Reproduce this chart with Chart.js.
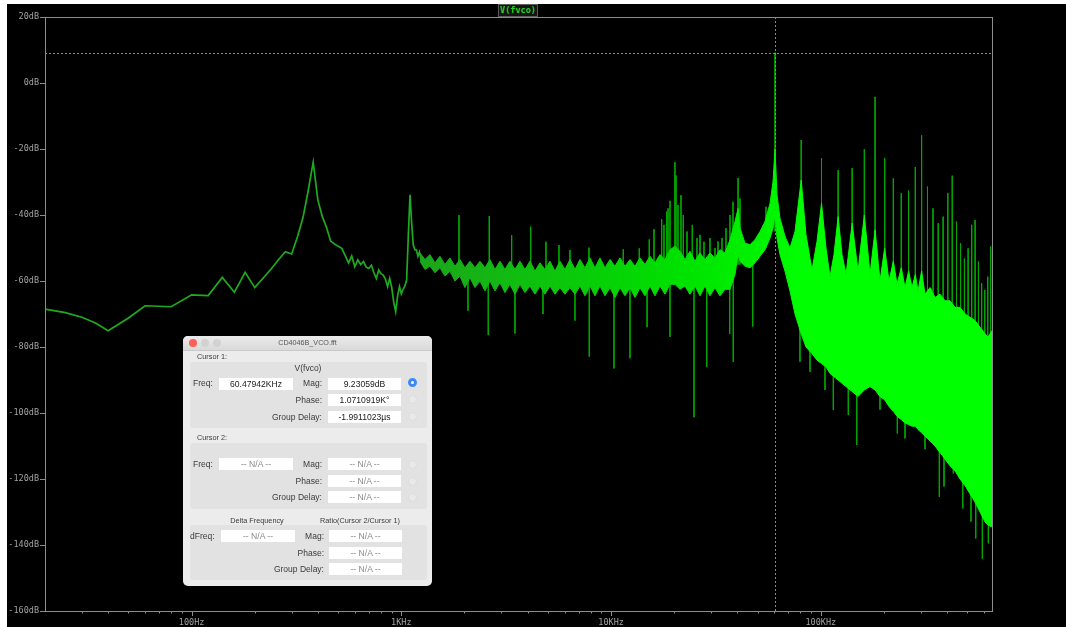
<!DOCTYPE html>
<html>
<head>
<meta charset="utf-8">
<script src="https://cdn.jsdelivr.net/npm/chart.js@4.4.1/dist/chart.umd.min.js"></script>
<style>
  html, body { margin: 0; padding: 0; background: #fff; width: 1066px; height: 627px; overflow: hidden; }
  #plot { position: absolute; left: 7px; top: 4px; width: 1059px; height: 623px; background: #000; }
  #plot canvas { display: block; }
  #traceName {
    position: absolute; left: 498px; top: 4px; width: 40px; height: 13px; box-sizing: border-box;
    border: 1px solid #5c5c5c; background: #141414; color: #22d422;
    font: bold 8.5px "DejaVu Sans Mono", monospace; line-height: 11px; text-align: center;
  }
  #dlg {
    position: absolute; left: 183px; top: 336px; width: 249px; height: 250px;
    background: #ececec; border-radius: 5px; box-shadow: 0 0 3px rgba(0,0,0,0.5);
    font-family: "Liberation Sans", Arial, sans-serif; color: #3a3a3a; overflow: hidden;
  }
  #dlg .bar { position: absolute; left: 0; top: 0; width: 249px; height: 14px;
    background: linear-gradient(#ebebeb, #d9d9d9); border-bottom: 1px solid #c9c9c9; }
  #dlg .light { position: absolute; top: 3px; width: 8px; height: 8px; border-radius: 50%; background: #d2d2d2; }
  #dlg .t { position: absolute; white-space: nowrap; line-height: 10px; }
  #dlg .panel { position: absolute; left: 7px; width: 237px; background: #e2e2e2; border-radius: 3px; }
  #dlg .box { position: absolute; height: 12px; background: #fff; text-align: center;
    font-size: 8.6px; line-height: 12px; color: #1a1a1a; white-space: nowrap; }
  #dlg .na { color: #8a8a8a; }
  #dlg .radio { position: absolute; width: 9px; height: 9px; border-radius: 50%; background: #e9e9e9; border: 1px solid #dcdcdc; box-sizing: border-box; }
  #dlg .radio.on { background: #fff; border: 3px solid #3d8af7; }
</style>
</head>
<body>
<div id="plot"><canvas id="c" width="1059" height="623"></canvas></div>
<div id="traceName">V(fvco)</div>

<div id="dlg">
  <div class="bar">
    <span class="light" style="left:6px;background:#fc5f57"></span>
    <span class="light" style="left:18px"></span>
    <span class="light" style="left:30px"></span>
    <div class="t" style="left:0;width:249px;top:2px;text-align:center;font-size:7.2px;color:#555">CD4046B_VCO.fft</div>
  </div>

  <div class="t" style="left:14px;top:16px;font-size:7.3px">Cursor 1:</div>
  <div class="panel" style="top:26px;height:66px"></div>
  <div class="t" style="left:0;width:250px;top:27px;text-align:center;font-size:8.5px">V(fvco)</div>
  <div class="t" style="left:10px;top:42px;font-size:8.5px">Freq:</div>
  <div class="box" style="left:36px;top:42px;width:74px">60.47942KHz</div>
  <div class="t" style="left:100px;width:39px;top:42px;text-align:right;font-size:8.5px">Mag:</div>
  <div class="box" style="left:145px;top:42px;width:73px">9.23059dB</div>
  <div class="radio on" style="left:225px;top:42px"></div>
  <div class="t" style="left:80px;width:59px;top:59px;text-align:right;font-size:8.5px">Phase:</div>
  <div class="box" style="left:145px;top:58px;width:73px">1.0710919K°</div>
  <div class="radio" style="left:225px;top:59px"></div>
  <div class="t" style="left:60px;width:79px;top:76px;text-align:right;font-size:8.5px">Group Delay:</div>
  <div class="box" style="left:145px;top:75px;width:73px">-1.9911023µs</div>
  <div class="radio" style="left:225px;top:76px"></div>

  <div class="t" style="left:14px;top:97px;font-size:7.3px">Cursor 2:</div>
  <div class="panel" style="top:107px;height:66px"></div>
  <div class="t" style="left:10px;top:123px;font-size:8.5px">Freq:</div>
  <div class="box na" style="left:36px;top:122px;width:74px">-- N/A --</div>
  <div class="t" style="left:100px;width:39px;top:123px;text-align:right;font-size:8.5px">Mag:</div>
  <div class="box na" style="left:145px;top:122px;width:73px">-- N/A --</div>
  <div class="radio" style="left:225px;top:124px"></div>
  <div class="t" style="left:80px;width:59px;top:140px;text-align:right;font-size:8.5px">Phase:</div>
  <div class="box na" style="left:145px;top:139px;width:73px">-- N/A --</div>
  <div class="radio" style="left:225px;top:141px"></div>
  <div class="t" style="left:60px;width:79px;top:156px;text-align:right;font-size:8.5px">Group Delay:</div>
  <div class="box na" style="left:145px;top:155px;width:73px">-- N/A --</div>
  <div class="radio" style="left:225px;top:157px"></div>

  <div class="t" style="left:34px;width:80px;top:180px;text-align:center;font-size:7.3px">Delta Frequency</div>
  <div class="t" style="left:127px;width:100px;top:180px;text-align:center;font-size:7.3px">Ratio(Cursor 2/Cursor 1)</div>
  <div class="panel" style="top:189px;height:55px"></div>
  <div class="t" style="left:7px;top:195px;font-size:8.5px">dFreq:</div>
  <div class="box na" style="left:38px;top:194px;width:74px">-- N/A --</div>
  <div class="t" style="left:102px;width:39px;top:195px;text-align:right;font-size:8.5px">Mag:</div>
  <div class="box na" style="left:146px;top:194px;width:73px">-- N/A --</div>
  <div class="t" style="left:82px;width:59px;top:212px;text-align:right;font-size:8.5px">Phase:</div>
  <div class="box na" style="left:146px;top:211px;width:73px">-- N/A --</div>
  <div class="t" style="left:62px;width:79px;top:228px;text-align:right;font-size:8.5px">Group Delay:</div>
  <div class="box na" style="left:146px;top:227px;width:73px">-- N/A --</div>
</div>

<script>
// ---- FFT of V(fvco) ----
// Low-frequency part of the spectrum, one clean trace
const lowHz = [20, 25, 30, 35, 40, 50, 60, 80, 100, 120, 140, 160, 180, 200, 220, 240, 260, 280, 300,
  320, 340, 360, 380, 400, 420, 440, 460, 480, 500, 520, 540, 560, 580, 600, 620, 640, 660, 680, 700,
  720, 740, 760, 780, 800, 820, 840, 860, 880, 900, 920, 940, 960, 980, 1000, 1020, 1040, 1060, 1080,
  1100, 1120, 1140, 1160, 1180, 1200, 1220, 1240];
const lowDb = [-68.5, -69.6, -71.0, -72.8, -75.1, -71.2, -67.5, -67.8, -64.2, -64.4, -58.9, -63.4, -57.4,
  -62.0, -59.0, -56.3, -53.5, -51.1, -51.8, -46.5, -40.7, -32.5, -24.0, -35.5, -40.5, -43.8, -47.9,
  -48.8, -49.5, -50.1, -52.3, -54.5, -52.4, -55.7, -53.6, -55.0, -54.1, -55.8, -56.2, -55.2, -57.5,
  -59.2, -56.7, -57.8, -58.2, -59.5, -61.7, -59.2, -62.0, -66.5, -69.3, -64.5, -61.7, -63.9, -62.5,
  -61.5, -59.7, -46.0, -33.9, -42.5, -49.1, -50.5, -50.6, -52.5, -51.2, -53.0];

// Dense noise floor above ~1.2 kHz: upper and lower envelope
const bandHz = [1227, 1296, 1369, 1446, 1528, 1614, 1705, 1801, 1903, 2010, 2124, 2244, 2371, 2504,
  2646, 2795, 2953, 3119, 3295, 3481, 3677, 3885, 4104, 4336, 4580, 4839, 5111, 5400, 5705, 6027,
  6368, 6728, 7107, 7508, 7932, 8379, 8853, 9352, 9881, 10437, 11025, 11651, 12308, 13002, 13735,
  14511, 15329, 16193, 17107, 18072, 19092, 20168, 21307, 22506, 23776, 25124, 26541, 28041, 29620,
  31290, 33055, 34923, 36897, 38970, 40320, 41174, 43495, 45962, 48550, 51299, 54189, 57250, 59165,
  60479, 61826, 63883, 67490, 71300, 75336, 80640, 84978, 90782, 95919, 100800, 105880, 110640,
  115580, 120960, 126200, 131920, 141120, 150440, 161280, 171630, 181440, 191570, 201600, 211440,
  221760, 230930, 241920, 252120, 262080, 272230, 282240, 290760, 302400, 313980, 331680, 350420,
  370150, 391080, 413120, 436520, 461100, 487180, 514520, 543630, 574300, 606740, 627030, 655000];
const bandTopDb = [-51.5, -53.5, -52.0, -54.5, -52.5, -55.0, -53.0, -55.5, -53.5, -56.0, -54.0, -56.0,
  -54.0, -56.0, -53.5, -56.5, -54.0, -56.5, -54.0, -56.5, -54.0, -56.5, -54.0, -57.0, -54.5, -56.5,
  -54.0, -57.0, -54.0, -56.5, -53.5, -56.5, -53.5, -56.0, -53.0, -56.0, -53.0, -56.0, -53.5, -55.5,
  -53.0, -55.5, -53.5, -55.5, -53.0, -55.0, -52.5, -54.5, -52.0, -53.5, -50.5, -49.5, -51.0, -53.5,
  -51.0, -54.0, -51.5, -53.5, -51.5, -53.0, -50.5, -51.5, -47.5, -42.0, -38.0, -44.0, -48.5, -49.0,
  -47.5, -45.0, -42.0, -36.5, -30.0, -20.0, -34.0, -41.0, -46.5, -50.0, -45.0, -29.4, -46.0, -56.7,
  -48.0, -36.5, -50.0, -58.7, -52.0, -40.5, -52.0, -58.0, -42.5, -57.0, -40.0, -58.0, -44.5, -60.0,
  -50.0, -60.0, -54.0, -61.0, -56.0, -62.0, -57.0, -62.0, -58.0, -63.0, -57.0, -64.0, -62.0, -65.0,
  -64.0, -66.0, -66.0, -68.0, -68.0, -70.0, -71.0, -72.0, -74.0, -76.0, -77.0, -75.0];
const bandBottomDb = [-54.0, -56.5, -55.5, -57.5, -56.0, -58.5, -57.0, -60.0, -58.5, -62.0, -59.0,
  -62.0, -60.0, -63.0, -60.0, -63.0, -60.5, -63.5, -61.0, -64.0, -61.0, -63.5, -61.5, -64.0, -61.5,
  -64.0, -61.5, -64.0, -62.0, -64.0, -62.0, -64.0, -61.5, -64.5, -61.5, -64.5, -61.5, -64.5, -62.0,
  -65.0, -62.0, -64.5, -62.0, -65.0, -62.0, -64.5, -61.5, -64.5, -61.5, -64.0, -61.0, -61.0, -62.5,
  -61.5, -64.0, -61.5, -64.5, -61.5, -64.5, -62.0, -64.5, -62.5, -62.5, -58.0, -52.0, -54.0, -55.5,
  -56.0, -54.5, -52.5, -50.5, -47.0, -44.0, -40.0, -47.0, -52.0, -57.0, -63.0, -70.0, -76.0, -80.0,
  -82.0, -84.0, -85.0, -86.0, -88.0, -89.0, -90.0, -91.0, -92.0, -93.5, -95.0, -93.0, -92.0, -93.0,
  -95.0, -96.0, -98.0, -99.5, -101.0, -102.0, -103.0, -103.5, -104.0, -104.0, -105.0, -106.0, -107.0,
  -108.5, -110.0, -112.0, -114.0, -116.0, -117.5, -120.0, -122.0, -124.5, -127.0, -130.0, -133.0,
  -134.0, -134.5];

// Discrete spectral lines: each runs from its high to its low level
const spikeHz = [1883, 2078, 2597, 2626, 3357, 3482, 4137, 4734, 4894, 5643,
  6368, 6727, 7845, 7870, 9955, 10323, 11436, 12307, 13632, 14850,
  15212, 16020, 17428, 17874, 18414, 18677, 19095, 20160, 20393, 20845,
  21543, 22099, 23010, 24391, 24851, 25683, 26541, 27733, 28571, 29620,
  31290, 32338, 33795, 35313, 36783, 36897, 38135, 38246, 40320, 41174,
  47352, 54788, 60479.42, 79574, 80640, 88842, 100800, 104710, 114720, 120960,
  135240, 141120, 148340, 161280, 181440, 191570, 201600, 221760, 231670, 241920,
  252120, 262080, 282240, 302400, 313980, 322560, 342720, 362880, 367380, 383040,
  386750, 403200, 423360, 428440, 443520, 463680, 474980, 483840, 504000, 520170,
  524160, 544320, 547880, 564480, 584640, 589120, 604800, 624960, 629210, 645120];
const spikeHighDb = [-40, -56, -56, -40.3, -46.1, -56, -43.5, -56, -48.1, -49.1,
  -50.6, -56, -49.9, -56, -53.6, -56, -50.4, -56, -50.1, -56,
  -47.4, -44.3, -41.3, -43, -39, -38, -35.7, -24, -28, -37,
  -34, -40, -45, -43, -56, -47, -46, -48.1, -56, -47,
  -50, -48, -47, -44, -56, -40, -36, -56, -28.8, -35,
  -52, -37.5, 9.23059, -60, -17.3, -60, -22.8, -80, -80, -26.4,
  -85, -25.8, -85, -20.1, -4.2, -85, -22.8, -28.9, -90, -33.4,
  -90, -32.6, -25.5, -15.8, -95, -31.4, -38, -42.5, -100, -40.5,
  -100, -33.4, -28.1, -100, -42, -48.6, -100, -53.2, -50.1, -110,
  -43, -41.5, -110, -54.1, -60.7, -110, -62.7, -58.7, -110, -49.6];
const spikeLowDb = [-58, -69, -76.4, -59, -60, -75.9, -60, -70, -60, -60,
  -60, -72, -60, -82.9, -60, -86.5, -60, -83.4, -60, -74,
  -60, -60, -60, -60, -60, -60, -76.9, -60, -60, -60,
  -60, -60, -60, -60, -101.3, -60, -60, -60, -86, -60,
  -60, -60, -60, -60, -76, -60, -60, -84.5, -55, -55,
  -73.8, -50, -45, -84.5, -75, -87.5, -75, -93, -99.1, -75,
  -100.6, -75, -109.7, -75, -75, -99, -75, -75, -106.2, -75,
  -107.7, -75, -75, -75, -111, -80, -80, -80, -125.4, -80,
  -122.3, -80, -80, -118.3, -80, -80, -128.9, -80, -80, -132.9,
  -80, -80, -138, -80, -80, -144.1, -80, -80, -139.5, -80];

// Cursor 1 readout
const cursorHz = 60479.42;
const cursorDb = 9.23059;

// Axis ticks
const decadeHz = [100, 1000, 10000, 100000];
const decadeLabels = ['100Hz', '1KHz', '10KHz', '100KHz'];
const xTickHz = [];
[10, 100, 1000, 10000, 100000].forEach(d => {
  for (let m = 1; m <= 9; m++) {
    const v = m * d;
    if (v > 20 && v < 655000) xTickHz.push(v);
  }
});
const yMin = -160, yMax = 20, yStep = 20;

const pairs = (xs, ys) => xs.map((x, i) => ({ x, y: ys[i] }));
const spikePoints = [];
spikeHz.forEach((f, i) => {
  spikePoints.push({ x: f, y: spikeHighDb[i] }, { x: f, y: spikeLowDb[i] }, { x: f, y: null });
});

const AXIS = '#8c8c8c';
const LABEL = '#a2a2a2';

function bandShade(ctx) {
  const chart = ctx.chart;
  const area = chart.chartArea;
  if (!area) return '#00e000';
  const x = chart.scales.x;
  const x0 = x.getPixelForValue(bandHz[0]);
  const x1 = x.getPixelForValue(bandHz[bandHz.length - 1]);
  const at = f => Math.min(1, Math.max(0, (x.getPixelForValue(f) - x0) / (x1 - x0)));
  const g = chart.ctx.createLinearGradient(x0, 0, x1, 0);
  g.addColorStop(0, 'rgb(28,165,28)');
  g.addColorStop(at(5000), 'rgb(12,196,12)');
  g.addColorStop(at(20000), 'rgb(0,224,0)');
  g.addColorStop(at(60000), 'rgb(0,246,0)');
  g.addColorStop(at(80000), 'rgb(0,255,0)');
  g.addColorStop(1, 'rgb(0,255,0)');
  return g;
}

// Frame, tick marks and the cursor cross-hair
const framePlugin = {
  id: 'frame',
  afterDatasetsDraw(chart) {
    const { ctx, chartArea: a, scales: { x, y } } = chart;
    ctx.save();
    ctx.lineWidth = 1;

    ctx.strokeStyle = '#8a8a8a';
    ctx.setLineDash([2, 2]);
    const cx = Math.round(x.getPixelForValue(cursorHz)) + 0.5;
    const cy = Math.round(y.getPixelForValue(cursorDb)) + 0.5;
    ctx.beginPath();
    ctx.moveTo(cx, a.top); ctx.lineTo(cx, a.bottom);
    ctx.moveTo(a.left, cy); ctx.lineTo(a.right, cy);
    ctx.stroke();
    ctx.setLineDash([]);

    ctx.strokeStyle = AXIS;
    ctx.strokeRect(Math.round(a.left) + 0.5, Math.round(a.top) + 0.5,
      Math.round(a.right - a.left), Math.round(a.bottom - a.top));

    ctx.beginPath();
    x.ticks.forEach(t => {
      const px = Math.round(x.getPixelForValue(t.value)) + 0.5;
      const len = decadeHz.includes(t.value) ? 5 : 2.5;
      ctx.moveTo(px, a.bottom); ctx.lineTo(px, a.bottom + len);
    });
    y.ticks.forEach(t => {
      const py = Math.round(y.getPixelForValue(t.value)) + 0.5;
      ctx.moveTo(a.left - 5, py); ctx.lineTo(a.left, py);
    });
    ctx.stroke();
    ctx.restore();
  }
};

new Chart(document.getElementById('c'), {
  type: 'line',
  data: {
    datasets: [
      { data: pairs(bandHz, bandTopDb), fill: '+1', backgroundColor: bandShade, borderColor: bandShade,
        borderWidth: 1, pointRadius: 0, tension: 0 },
      { data: pairs(bandHz, bandBottomDb), fill: false, borderColor: bandShade, borderWidth: 1,
        pointRadius: 0, tension: 0 },
      { data: pairs(lowHz, lowDb), fill: false, borderColor: '#1fab1f', borderWidth: 1.7,
        pointRadius: 0, tension: 0 },
      { data: spikePoints, fill: false, borderColor: 'rgba(0,168,0,0.95)', borderWidth: 1,
        pointRadius: 0, tension: 0, spanGaps: false }
    ]
  },
  options: {
    responsive: false,
    animation: false,
    events: [],
    layout: { padding: { top: 13, right: 74, left: 0, bottom: 0 } },
    plugins: { legend: { display: false }, tooltip: { enabled: false }, title: { display: false } },
    scales: {
      x: {
        type: 'logarithmic', min: 20, max: 655000,
        grid: { display: false, drawTicks: false },
        border: { display: false },
        afterBuildTicks: s => { s.ticks = xTickHz.map(v => ({ value: v, major: decadeHz.includes(v) })); },
        afterFit: s => { s.height = 16; },
        ticks: {
          autoSkip: false, maxRotation: 0, minRotation: 0, padding: 7, color: LABEL,
          font: { family: 'DejaVu Sans Mono', size: 8.5 },
          callback: v => { const i = decadeHz.indexOf(v); return i >= 0 ? decadeLabels[i] : ''; }
        }
      },
      y: {
        min: yMin, max: yMax,
        grid: { display: false, drawTicks: false },
        border: { display: false },
        afterFit: s => { s.width = 38; },
        ticks: {
          stepSize: yStep, padding: 6, color: LABEL,
          font: { family: 'DejaVu Sans Mono', size: 8.5 },
          callback: v => v + 'dB'
        }
      }
    }
  },
  plugins: [framePlugin]
});
</script>
</body>
</html>
